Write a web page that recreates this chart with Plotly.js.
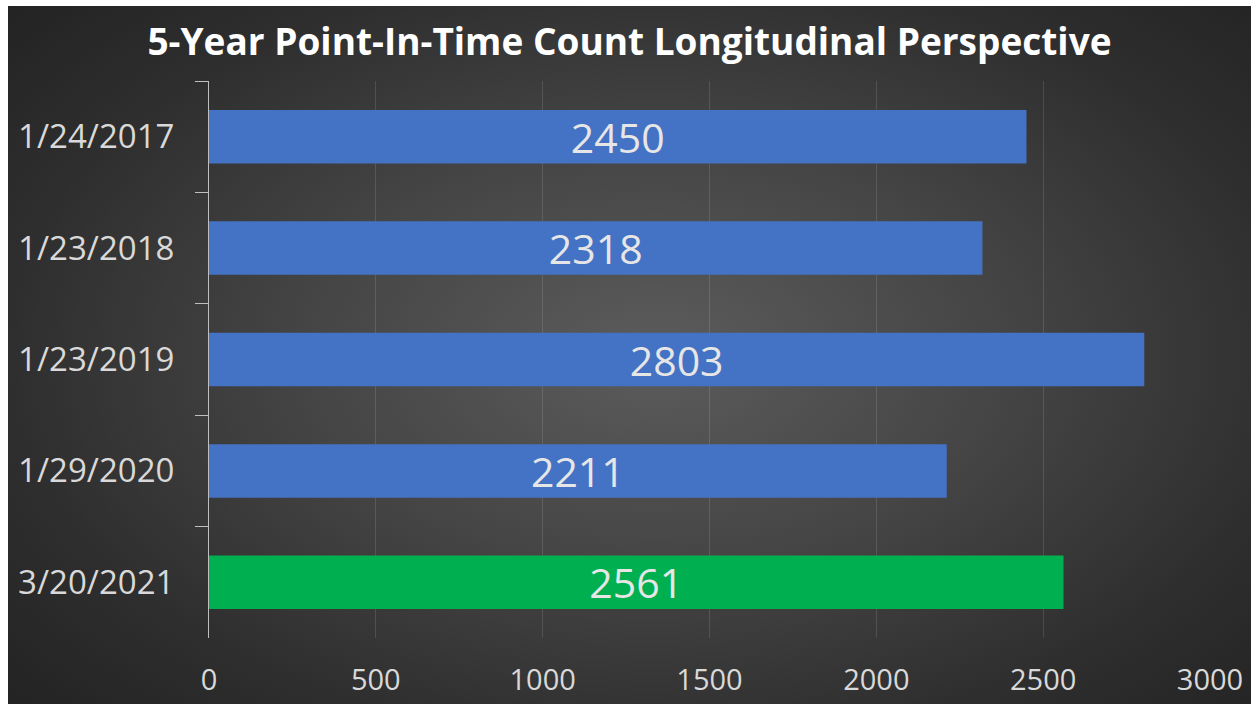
<!DOCTYPE html>
<html>
<head>
<meta charset="utf-8">
<script src="https://cdn.plot.ly/plotly-3.0.1.min.js"></script>
<style>
  html, body { margin: 0; padding: 0; background: #ffffff; }
  #wrap { position: absolute; left: 0; top: 0; width: 1251px; height: 704px; background: #ffffff; }
  #chart { position: absolute; left: 8px; top: 6px; width: 1243px; height: 698px;
    background: radial-gradient(ellipse 70% 75% at 52% 50%, #5c5c5c 0%, #454545 40%, #2e2e2e 75%, #232323 100%); }
</style>
</head>
<body>
<div id="wrap"><div id="chart"></div></div>
<script>
const dates = ["1/24/2017", "1/23/2018", "1/23/2019", "1/29/2020", "3/20/2021"];
const counts = [2450, 2318, 2803, 2211, 2561];
const barColors = ["#4472C4", "#4472C4", "#4472C4", "#4472C4", "#00B050"];
const xTicks = [0, 500, 1000, 1500, 2000, 2500, 3000];
const titleText = "5-Year Point-In-Time Count Longitudinal Perspective";

const trace = {
  type: "bar",
  orientation: "h",
  y: dates,
  x: counts,
  text: counts.map(String),
  textposition: "inside",
  insidetextanchor: "middle",
  constraintext: "none",
  textangle: 0,
  insidetextfont: { family: "Open Sans, sans-serif", size: 41, color: "#e6e6e6" },
  marker: { color: barColors, line: { width: 0 } },
  width: 0.48,
  hoverinfo: "skip"
};

const layout = {
  width: 1243,
  height: 698,
  paper_bgcolor: "rgba(0,0,0,0)",
  plot_bgcolor: "rgba(0,0,0,0)",
  margin: { l: 201, r: 41, t: 75, b: 66 },
  showlegend: false,
  uniformtext: { mode: "show", minsize: 41 },
  title: {
    text: "<b>" + titleText + "</b>",
    font: { family: "Open Sans, sans-serif", size: 37, color: "#ffffff" },
    x: 0.5, xanchor: "center", y: 0.948, yanchor: "middle"
  },
  xaxis: {
    range: [0, 3000],
    tickvals: xTicks,
    ticktext: xTicks.map(String),
    showgrid: true,
    gridcolor: "rgba(255,255,255,0.12)",
    gridwidth: 1,
    zeroline: false,
    showline: false,
    ticks: "",
    ticklabelstandoff: 22,
    tickfont: { family: "Open Sans, sans-serif", size: 29, color: "#d9d9d9" },
    fixedrange: true
  },
  yaxis: {
    type: "category",
    autorange: "reversed",
    tickson: "boundaries",
    ticks: "outside",
    ticklen: 13,
    tickcolor: "#bfbfbf",
    tickwidth: 1,
    showline: true,
    linecolor: "#bfbfbf",
    linewidth: 1,
    showgrid: false,
    zeroline: false,
    ticklabelstandoff: 27,
    tickfont: { family: "Open Sans, sans-serif", size: 33, color: "#d9d9d9" },
    fixedrange: true
  }
};

Plotly.newPlot("chart", [trace], layout, { displayModeBar: false, staticPlot: true });
</script>
</body>
</html>
